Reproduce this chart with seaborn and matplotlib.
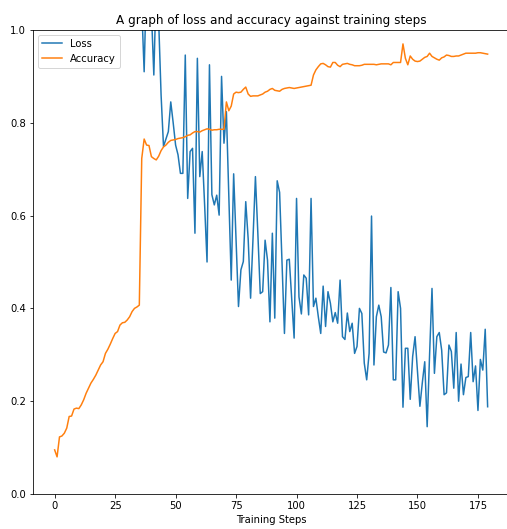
import pandas as pd
import seaborn as sns
import matplotlib
matplotlib.use("Agg")
import matplotlib.pyplot as plt

# values (loss above 1.0 is clipped by the y limit)
steps = list(range(180))

loss = [
    2.31, 2.25, 2.18, 2.12, 2.05, 1.98, 1.95, 1.89, 1.84, 1.80,
    1.76, 1.71, 1.68, 1.64, 1.60, 1.57, 1.53, 1.50, 1.47, 1.45,
    1.41, 1.39, 1.36, 1.33, 1.31, 1.29, 1.26, 1.24, 1.22, 1.21,
    1.19, 1.17, 1.15, 1.14, 1.12, 1.10, 1.05, 0.910, 1.12, 1.08,
    1.04, 0.903, 1.10, 1.02, 0.86, 0.749, 0.765, 0.781, 0.845, 0.80,
    0.752, 0.731, 0.691, 0.691, 0.946, 0.637, 0.738, 0.745, 0.562, 0.939,
    0.684, 0.738, 0.623, 0.500, 0.925, 0.645, 0.623, 0.644, 0.601, 0.900,
    0.756, 0.824, 0.640, 0.461, 0.690, 0.550, 0.404, 0.483, 0.501, 0.630,
    0.550, 0.422, 0.550, 0.684, 0.562, 0.432, 0.436, 0.547, 0.504, 0.371,
    0.562, 0.379, 0.675, 0.650, 0.500, 0.346, 0.504, 0.506, 0.420, 0.336,
    0.637, 0.425, 0.388, 0.472, 0.465, 0.386, 0.637, 0.404, 0.422, 0.382,
    0.346, 0.448, 0.361, 0.436, 0.411, 0.371, 0.391, 0.368, 0.461, 0.339,
    0.333, 0.390, 0.350, 0.368, 0.303, 0.318, 0.400, 0.389, 0.282, 0.246,
    0.303, 0.599, 0.278, 0.382, 0.407, 0.382, 0.306, 0.304, 0.321, 0.445,
    0.246, 0.246, 0.436, 0.400, 0.187, 0.314, 0.314, 0.204, 0.296, 0.339,
    0.265, 0.189, 0.240, 0.285, 0.145, 0.300, 0.443, 0.260, 0.339, 0.348,
    0.310, 0.214, 0.218, 0.321, 0.307, 0.228, 0.348, 0.200, 0.280, 0.214,
    0.251, 0.253, 0.348, 0.242, 0.276, 0.180, 0.290, 0.267, 0.355, 0.188,
]

accuracy = [
    0.095, 0.080, 0.123, 0.125, 0.131, 0.142, 0.167, 0.168, 0.183, 0.185,
    0.184, 0.192, 0.203, 0.217, 0.228, 0.239, 0.247, 0.256, 0.267, 0.278,
    0.285, 0.303, 0.312, 0.323, 0.335, 0.346, 0.350, 0.364, 0.369, 0.370,
    0.375, 0.382, 0.393, 0.400, 0.403, 0.407, 0.723, 0.765, 0.752, 0.751,
    0.727, 0.723, 0.720, 0.728, 0.740, 0.748, 0.752, 0.758, 0.762, 0.763,
    0.764, 0.766, 0.767, 0.768, 0.770, 0.773, 0.774, 0.778, 0.781, 0.781,
    0.780, 0.783, 0.785, 0.787, 0.786, 0.784, 0.785, 0.785, 0.786, 0.786,
    0.786, 0.845, 0.826, 0.836, 0.862, 0.866, 0.865, 0.866, 0.872, 0.877,
    0.862, 0.857, 0.858, 0.858, 0.858, 0.860, 0.862, 0.866, 0.868, 0.872,
    0.874, 0.870, 0.869, 0.868, 0.872, 0.874, 0.875, 0.876, 0.875, 0.874,
    0.875, 0.876, 0.877, 0.878, 0.879, 0.880, 0.881, 0.903, 0.914, 0.921,
    0.927, 0.928, 0.925, 0.921, 0.920, 0.930, 0.930, 0.924, 0.921, 0.926,
    0.927, 0.928, 0.926, 0.925, 0.923, 0.923, 0.923, 0.924, 0.926, 0.926,
    0.926, 0.926, 0.926, 0.925, 0.926, 0.927, 0.927, 0.927, 0.927, 0.925,
    0.930, 0.930, 0.930, 0.930, 0.970, 0.939, 0.925, 0.944, 0.937, 0.933,
    0.932, 0.933, 0.937, 0.941, 0.943, 0.950, 0.943, 0.940, 0.937, 0.935,
    0.940, 0.942, 0.946, 0.945, 0.943, 0.943, 0.944, 0.944, 0.946, 0.948,
    0.950, 0.950, 0.950, 0.950, 0.950, 0.951, 0.951, 0.950, 0.949, 0.948,
]

df = pd.DataFrame({'step': steps, 'loss': loss, 'accuracy': accuracy})

# reference looks like a notebook render at 72 dpi
fig = plt.figure(figsize=(507 / 72, 529 / 72), dpi=72)
ax = fig.add_axes([0.0651, 0.0662, 0.9394, 0.8771])

sns.lineplot(data=df, x='step', y='loss', ax=ax, color='#1f77b4', label='Loss')
sns.lineplot(data=df, x='step', y='accuracy', ax=ax, color='#ff7f0e', label='Accuracy')

ax.set_ylim(0, 1)
ax.set_title('A graph of loss and accuracy against training steps')
ax.set_xlabel('Training Steps')
ax.set_ylabel('')
ax.legend(loc='upper left')

fig.savefig('out.png', dpi=72)
